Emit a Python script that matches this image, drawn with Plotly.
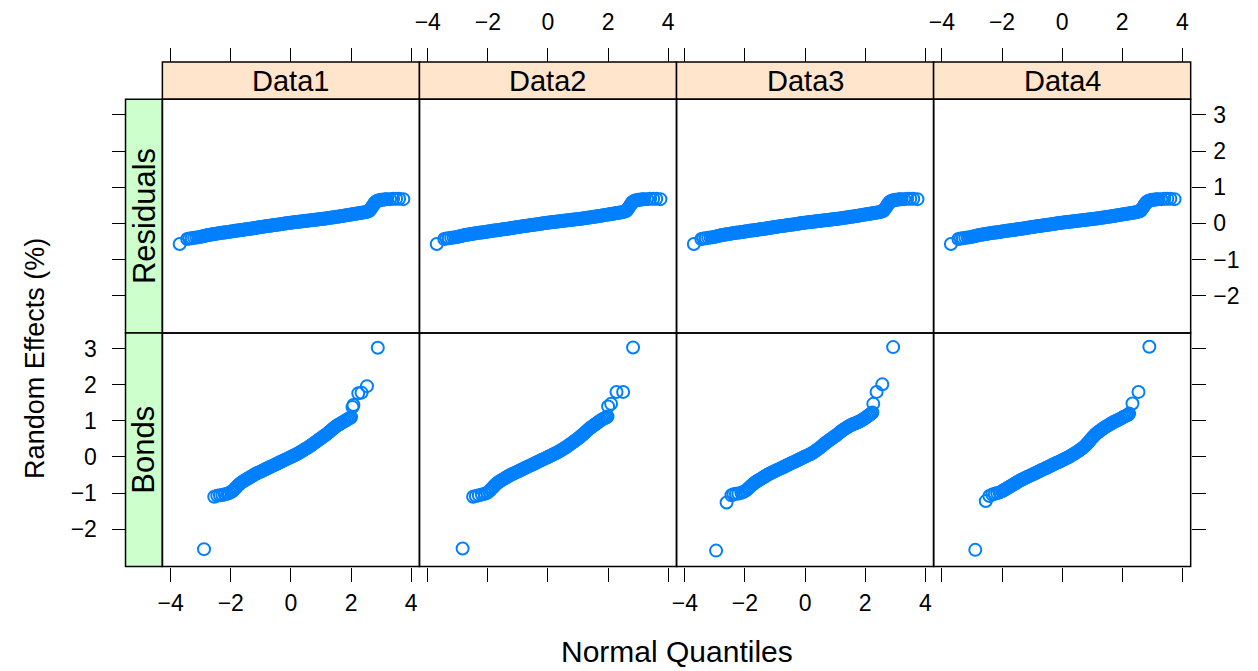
import plotly.graph_objects as go

# ---------------------------------------------------------------------------
# Normal Q-Q data: theoretical quantile (q) and sorted random effect (v)
# ---------------------------------------------------------------------------
panel_names = ["Data1", "Data2", "Data3", "Data4"]
row_names = ["Residuals", "Bonds"]

# Residuals (identical in every column)
res_lo_q = [-3.70, -3.45, -3.38, -3.30, -3.22, -3.14, -3.07]
res_lo_v = [-0.57, -0.43, -0.42, -0.41, -0.40, -0.39, -0.38]
res_mid_q = [-3.00, -2.95, -2.90, -2.85, -2.80, -2.75, -2.70, -2.65, -2.60, -2.55,
             -2.50, -2.45, -2.40, -2.35, -2.30, -2.25, -2.20, -2.15, -2.10, -2.05,
             -2.00, -1.95, -1.90, -1.85, -1.80, -1.75, -1.70, -1.65, -1.60, -1.55,
             -1.50, -1.45, -1.40, -1.35, -1.30, -1.25, -1.20, -1.15, -1.10, -1.05,
             -1.00, -0.95, -0.90, -0.85, -0.80, -0.75, -0.70, -0.65, -0.60, -0.55,
             -0.50, -0.45, -0.40, -0.35, -0.30, -0.25, -0.20, -0.15, -0.10, -0.05,
             0.00, 0.05, 0.10, 0.15, 0.20, 0.25, 0.30, 0.35, 0.40, 0.45,
             0.50, 0.55, 0.60, 0.65, 0.70, 0.75, 0.80, 0.85, 0.90, 0.95,
             1.00, 1.05, 1.10, 1.15, 1.20, 1.25, 1.30, 1.35, 1.40, 1.45,
             1.50, 1.55, 1.60, 1.65, 1.70, 1.75, 1.80, 1.85, 1.90, 1.95,
             2.00, 2.05, 2.10, 2.15, 2.20, 2.25, 2.30, 2.35, 2.40, 2.45,
             2.50, 2.55, 2.60]
res_mid_v = [-0.370, -0.360, -0.350, -0.340, -0.330, -0.322, -0.315, -0.307, -0.300, -0.292,
             -0.285, -0.278, -0.270, -0.265, -0.260, -0.255, -0.250, -0.245, -0.240, -0.232,
             -0.225, -0.220, -0.215, -0.207, -0.200, -0.195, -0.190, -0.185, -0.180, -0.172,
             -0.165, -0.160, -0.155, -0.147, -0.140, -0.135, -0.130, -0.122, -0.115, -0.107,
             -0.100, -0.095, -0.090, -0.082, -0.075, -0.070, -0.065, -0.057, -0.050, -0.045,
             -0.040, -0.035, -0.030, -0.022, -0.015, -0.010, -0.005, 0.002, 0.010, 0.015,
             0.020, 0.025, 0.030, 0.035, 0.040, 0.045, 0.050, 0.055, 0.060, 0.065,
             0.070, 0.075, 0.080, 0.085, 0.090, 0.095, 0.100, 0.105, 0.110, 0.115,
             0.120, 0.125, 0.130, 0.137, 0.145, 0.150, 0.155, 0.160, 0.165, 0.172,
             0.180, 0.185, 0.190, 0.197, 0.205, 0.212, 0.220, 0.227, 0.235, 0.240,
             0.245, 0.252, 0.260, 0.265, 0.270, 0.277, 0.285, 0.292, 0.300, 0.307,
             0.315, 0.327, 0.340]
res_hi_q = [2.63, 2.65, 2.68, 2.70, 2.73, 2.75, 2.78, 2.80, 2.83, 2.85, 2.88, 2.90,
            2.95, 3.00, 3.05, 3.10, 3.15, 3.20, 3.30, 3.40, 3.50, 3.60, 3.74]
res_hi_v = [0.37, 0.40, 0.43, 0.45, 0.49, 0.52, 0.55, 0.58, 0.60, 0.61, 0.62, 0.63,
            0.64, 0.65, 0.655, 0.66, 0.665, 0.67, 0.67, 0.68, 0.68, 0.68, 0.67]

# Bonds: shared central quantile grid, per-column values and tails
bonds_mid_q = [-1.90, -1.85, -1.80, -1.75, -1.70, -1.65, -1.60, -1.55, -1.50, -1.45,
               -1.40, -1.35, -1.30, -1.25, -1.20, -1.15, -1.10, -1.05, -1.00, -0.95,
               -0.90, -0.85, -0.80, -0.75, -0.70, -0.65, -0.60, -0.55, -0.50, -0.45,
               -0.40, -0.35, -0.30, -0.25, -0.20, -0.15, -0.10, -0.05, 0.00, 0.05,
               0.10, 0.15, 0.20, 0.25, 0.30, 0.35, 0.40, 0.45, 0.50, 0.55,
               0.60, 0.65, 0.70, 0.75, 0.80, 0.85, 0.90, 0.95, 1.00, 1.05,
               1.10, 1.15, 1.20, 1.25, 1.30, 1.35, 1.40, 1.45, 1.50, 1.55,
               1.60, 1.65, 1.70, 1.75, 1.80, 1.85, 1.90]

bonds1_mid_v = [-0.91, -0.865, -0.82, -0.78, -0.74, -0.71, -0.68, -0.655, -0.63, -0.605,
                -0.58, -0.555, -0.53, -0.505, -0.48, -0.46, -0.44, -0.42, -0.40, -0.38,
                -0.36, -0.34, -0.32, -0.30, -0.28, -0.26, -0.24, -0.22, -0.20, -0.18,
                -0.16, -0.14, -0.12, -0.10, -0.08, -0.06, -0.04, -0.02, 0.00, 0.02,
                0.04, 0.06, 0.08, 0.105, 0.13, 0.155, 0.18, 0.205, 0.23, 0.255,
                0.28, 0.31, 0.34, 0.37, 0.40, 0.43, 0.46, 0.49, 0.52, 0.55,
                0.58, 0.61, 0.64, 0.675, 0.71, 0.745, 0.78, 0.815, 0.85, 0.875,
                0.90, 0.925, 0.95, 0.975, 1.00, 1.025, 1.05]
bonds1_lo_q = [-2.89, -2.55, -2.45, -2.36, -2.28, -2.20, -2.12, -2.05, -1.98, -1.94]
bonds1_lo_v = [-2.55, -1.10, -1.07, -1.06, -1.05, -1.03, -1.02, -1.00, -0.96, -0.94]
bonds1_hi_q = [1.95, 2.00, 2.05, 2.08, 2.24, 2.35, 2.53, 2.89]
bonds1_hi_v = [1.07, 1.10, 1.38, 1.44, 1.76, 1.78, 1.96, 3.02]

bonds2_mid_v = [-0.90, -0.855, -0.81, -0.77, -0.73, -0.70, -0.67, -0.645, -0.62, -0.595,
                -0.57, -0.545, -0.52, -0.50, -0.48, -0.46, -0.44, -0.42, -0.40, -0.38,
                -0.36, -0.34, -0.32, -0.30, -0.28, -0.26, -0.24, -0.22, -0.20, -0.18,
                -0.16, -0.14, -0.12, -0.10, -0.08, -0.06, -0.04, -0.02, 0.00, 0.02,
                0.04, 0.06, 0.08, 0.10, 0.12, 0.145, 0.17, 0.195, 0.22, 0.245,
                0.27, 0.30, 0.33, 0.36, 0.39, 0.42, 0.45, 0.48, 0.51, 0.545,
                0.58, 0.615, 0.65, 0.69, 0.73, 0.765, 0.80, 0.83, 0.86, 0.89,
                0.92, 0.95, 0.98, 1.01, 1.04, 1.06, 1.08]
bonds2_lo_q = [-2.84, -2.49, -2.40, -2.30, -2.20, -2.10, -2.02, -1.96]
bonds2_lo_v = [-2.53, -1.10, -1.08, -1.06, -1.04, -1.02, -0.99, -0.95]
bonds2_hi_q = [1.95, 1.98, 2.00, 2.10, 2.28, 2.50, 2.83]
bonds2_hi_v = [1.10, 1.12, 1.40, 1.47, 1.80, 1.80, 3.03]

bonds3_mid_v = [-0.88, -0.84, -0.80, -0.765, -0.73, -0.70, -0.67, -0.645, -0.62, -0.595,
                -0.57, -0.545, -0.52, -0.495, -0.47, -0.45, -0.43, -0.41, -0.39, -0.37,
                -0.35, -0.33, -0.31, -0.29, -0.27, -0.25, -0.23, -0.21, -0.19, -0.17,
                -0.15, -0.13, -0.11, -0.09, -0.07, -0.05, -0.03, -0.01, 0.01, 0.03,
                0.05, 0.07, 0.09, 0.115, 0.14, 0.17, 0.20, 0.23, 0.26, 0.295,
                0.33, 0.365, 0.40, 0.43, 0.46, 0.49, 0.52, 0.55, 0.58, 0.61,
                0.64, 0.675, 0.71, 0.74, 0.77, 0.795, 0.82, 0.845, 0.87, 0.89,
                0.91, 0.925, 0.94, 0.96, 0.98, 1.00, 1.02]
bonds3_lo_q = [-2.96, -2.61, -2.45, -2.38, -2.30, -2.22, -2.12, -2.04, -1.97]
bonds3_lo_v = [-2.59, -1.26, -1.06, -1.03, -1.02, -1.01, -0.99, -0.96, -0.93]
bonds3_hi_q = [1.95, 2.00, 2.05, 2.10, 2.15, 2.20, 2.24, 2.27, 2.38, 2.57, 2.93]
bonds3_hi_v = [1.05, 1.08, 1.11, 1.14, 1.17, 1.20, 1.23, 1.47, 1.80, 2.01, 3.04]

bonds4_mid_v = [-0.90, -0.875, -0.85, -0.825, -0.80, -0.775, -0.75, -0.725, -0.70, -0.675,
                -0.65, -0.63, -0.61, -0.59, -0.57, -0.55, -0.53, -0.51, -0.49, -0.47,
                -0.45, -0.43, -0.41, -0.39, -0.37, -0.35, -0.33, -0.31, -0.29, -0.27,
                -0.25, -0.23, -0.21, -0.19, -0.17, -0.15, -0.13, -0.11, -0.09, -0.07,
                -0.05, -0.03, -0.01, 0.015, 0.04, 0.065, 0.09, 0.115, 0.14, 0.17,
                0.20, 0.23, 0.26, 0.30, 0.34, 0.385, 0.43, 0.48, 0.53, 0.575,
                0.62, 0.655, 0.69, 0.72, 0.75, 0.78, 0.81, 0.835, 0.86, 0.885,
                0.91, 0.935, 0.96, 0.98, 1.00, 1.02, 1.04]
bonds4_lo_q = [-2.89, -2.54, -2.42, -2.32, -2.24, -2.16, -2.08, -2.00, -1.95]
bonds4_lo_v = [-2.57, -1.22, -1.08, -1.04, -1.02, -1.00, -0.98, -0.95, -0.92]
bonds4_hi_q = [1.95, 2.00, 2.05, 2.10, 2.15, 2.20, 2.23, 2.34, 2.54, 2.90]
bonds4_hi_v = [1.06, 1.09, 1.11, 1.13, 1.15, 1.17, 1.20, 1.48, 1.80, 3.05]

res_q = res_lo_q + res_mid_q + res_hi_q
res_v = res_lo_v + res_mid_v + res_hi_v
bonds_q = [lo + bonds_mid_q + hi for lo, hi in
           [(bonds1_lo_q, bonds1_hi_q), (bonds2_lo_q, bonds2_hi_q),
            (bonds3_lo_q, bonds3_hi_q), (bonds4_lo_q, bonds4_hi_q)]]
bonds_v = [lo + mid + hi for lo, mid, hi in
           [(bonds1_lo_v, bonds1_mid_v, bonds1_hi_v), (bonds2_lo_v, bonds2_mid_v, bonds2_hi_v),
            (bonds3_lo_v, bonds3_mid_v, bonds3_hi_v), (bonds4_lo_v, bonds4_mid_v, bonds4_hi_v)]]

x_ticks = [-4, -2, 0, 2, 4]
y_ticks = [-2, -1, 0, 1, 2, 3]
x_range = [-4.276, 4.276]
y_range = [-3.03, 3.43]

# ---------------------------------------------------------------------------
# Page geometry (pixels) for the trellis layout
# ---------------------------------------------------------------------------
W, H = 1258, 671
col_edges = [158, 416.1, 674.2, 932.3, 1190.4]
row_edges = [99.3, 333.0, 566.5]
strip_top = 62.0
left_strip_x = 121.0


def fx(px):
    return px / W


def fy(py):
    return 1 - py / H


FONT = "Liberation Sans, Arial, Helvetica, sans-serif"
POINT_COL = "#0080ff"
TICK_FONT = dict(family=FONT, size=23, color="black")

fig = go.Figure()
layout = dict(
    width=W, height=H,
    margin=dict(l=0, r=0, t=0, b=0),
    paper_bgcolor="white", plot_bgcolor="white",
    showlegend=False,
    font=dict(family=FONT, color="black"),
)

shapes = []
annotations = []

for r in range(2):
    for c in range(4):
        i = r * 4 + c + 1
        xa = "xaxis" if i == 1 else f"xaxis{i}"
        ya = "yaxis" if i == 1 else f"yaxis{i}"
        xref = "x" if i == 1 else f"x{i}"
        yref = "y" if i == 1 else f"y{i}"

        if r == 0:
            xs, ys = res_q, res_v
        else:
            xs, ys = bonds_q[c], bonds_v[c]
        fig.add_trace(go.Scatter(
            x=xs, y=ys, mode="markers", xaxis=xref, yaxis=yref,
            marker=dict(symbol="circle-open", size=12, color=POINT_COL,
                        line=dict(width=2, color=POINT_COL)),
            hoverinfo="x+y",
        ))

        x0, x1 = col_edges[c], col_edges[c + 1]
        y0, y1 = row_edges[r], row_edges[r + 1]

        xaxis = dict(
            domain=[fx(x0), fx(x1)], range=x_range,
            tickvals=x_ticks, ticks="outside", ticklen=14, tickwidth=1.3,
            tickcolor="black", tickfont=TICK_FONT,
            showgrid=False, zeroline=False, showline=False,
        )
        if r == 0:
            xaxis.update(anchor="free", position=fy(strip_top), side="top",
                         showticklabels=(c in (1, 3)), ticklabelstandoff=9)
        else:
            xaxis.update(anchor=yref, side="bottom",
                         showticklabels=(c in (0, 2)), ticklabelstandoff=2)

        yaxis = dict(
            domain=[fy(y1), fy(y0)], range=y_range,
            tickvals=y_ticks, tickfont=TICK_FONT, tickcolor="black",
            tickwidth=1.3, ticklen=14,
            showgrid=False, zeroline=False, showline=False,
        )
        if c == 0:
            yaxis.update(anchor="free", position=fx(left_strip_x), side="left",
                         ticks="outside", showticklabels=(r == 1),
                         ticklabelstandoff=10)
        elif c == 3:
            yaxis.update(anchor=xref, side="right", ticks="outside",
                         showticklabels=(r == 0), ticklabelstandoff=3)
        else:
            yaxis.update(anchor=xref, ticks="", showticklabels=False)

        layout[xa] = xaxis
        layout[ya] = yaxis

        # panel frame
        shapes.append(dict(type="rect", xref="paper", yref="paper",
                           x0=fx(x0), x1=fx(x1), y0=fy(y1), y1=fy(y0),
                           line=dict(color="black", width=1.5),
                           fillcolor="rgba(0,0,0,0)", layer="above"))

# column strips (top)
for c in range(4):
    x0, x1 = col_edges[c], col_edges[c + 1]
    shapes.append(dict(type="rect", xref="paper", yref="paper",
                       x0=fx(x0), x1=fx(x1), y0=fy(row_edges[0]), y1=fy(strip_top),
                       line=dict(color="black", width=1.5), fillcolor="#FFE5CC",
                       layer="below"))
    annotations.append(dict(text=panel_names[c], xref="paper", yref="paper",
                            x=fx((x0 + x1) / 2), y=fy((strip_top + row_edges[0]) / 2),
                            showarrow=False, xanchor="center", yanchor="middle",
                            font=dict(family=FONT, size=29, color="black")))

# row strips (left)
for r in range(2):
    y0, y1 = row_edges[r], row_edges[r + 1]
    shapes.append(dict(type="rect", xref="paper", yref="paper",
                       x0=fx(left_strip_x), x1=fx(col_edges[0]), y0=fy(y1), y1=fy(y0),
                       line=dict(color="black", width=1.5), fillcolor="#CCFFCC",
                       layer="below"))
    annotations.append(dict(text=row_names[r], xref="paper", yref="paper",
                            x=fx((left_strip_x + col_edges[0]) / 2), y=fy((y0 + y1) / 2),
                            showarrow=False, textangle=-90,
                            xanchor="center", yanchor="middle",
                            font=dict(family=FONT, size=31, color="black")))

# axis titles
annotations.append(dict(text="Normal Quantiles", xref="paper", yref="paper",
                        x=fx((col_edges[0] + col_edges[4]) / 2), y=fy(651),
                        showarrow=False, xanchor="center", yanchor="middle",
                        font=dict(family=FONT, size=30, color="black")))
annotations.append(dict(text="Random Effects (%)", xref="paper", yref="paper",
                        x=fx(30), y=fy(358), textangle=-90,
                        showarrow=False, xanchor="center", yanchor="middle",
                        font=dict(family=FONT, size=27, color="black")))

layout["shapes"] = shapes
layout["annotations"] = annotations
fig.update_layout(**layout)

fig.write_html("out.html")
